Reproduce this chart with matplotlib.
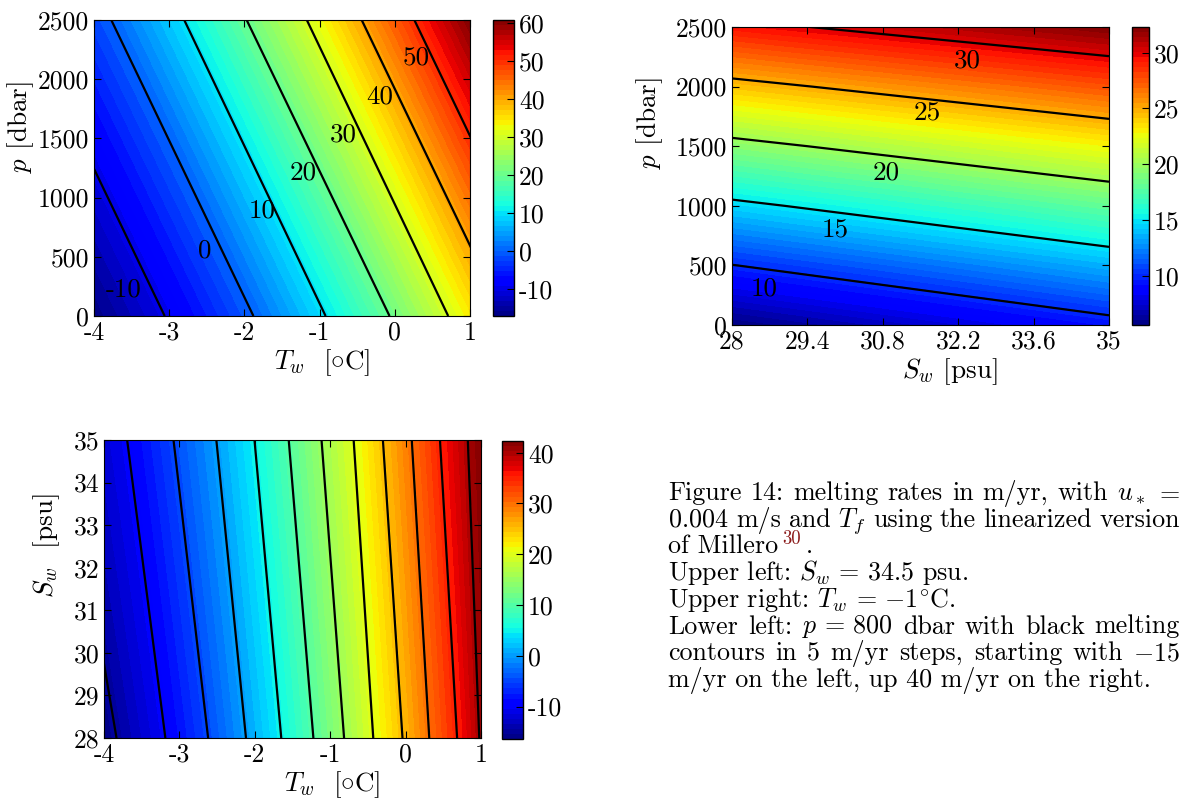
import numpy as np
import matplotlib
matplotlib.use("Agg")
import matplotlib.pyplot as plt

# ---- data (melting rate in m/yr) ----
# upper left (Sw = 34.5 psu): where each melt contour meets p = 0 and p = 2500
ul_line_levels = [-20, -10, 0, 10, 20, 30, 40, 50, 60, 70]
ul_t_p0 = [-4.45, -3.06, -1.88, -0.92, -0.07, 0.71, 1.45, 2.15, 2.85, 3.48]
ul_t_p2500 = [-6.34, -4.95, -3.77, -2.80, -1.97, -1.17, -0.44, 0.26, 0.96, 1.59]
ul_p = [0, 2500]
ul_range = (-17.1, 60.7)
ul_levels = [-10, 0, 10, 20, 30, 40, 50]
ul_cticks = [-10, 0, 10, 20, 30, 40, 50, 60]

# upper right (Tw = -1 C)
ur_sw = [28, 35]
ur_p = [0, 500, 1000, 1500, 2000, 2500]
ur_melt = [[5.6, 9.3], [9.95, 13.6], [14.5, 18.1],
           [19.3, 22.8], [24.3, 27.6], [29.4, 32.3]]
ur_range = (5.6, 32.3)
ur_levels = [10, 15, 20, 25, 30]
ur_xticks = [28, 29.4, 30.8, 32.2, 33.6, 35]
ur_xlabels = ["28", "29.4", "30.8", "32.2", "33.6", "35"]

# lower left (p = 800 dbar): where each contour meets Sw = 28 and Sw = 35
ll_line_levels = [-20, -15, -10, -5, 0, 5, 10, 15, 20, 25, 30, 35, 40, 45]
ll_t_s28 = [-4.55, -3.834, -3.186, -2.619, -2.117, -1.649, -1.223, -0.816,
            -0.429, -0.041, 0.314, 0.683, 0.977, 1.27]
ll_t_s35 = [-5.45, -4.50, -3.693, -3.078, -2.510, -2.004, -1.550, -1.115,
            -0.689, -0.301, 0.082, 0.456, 0.825, 1.21]
ll_sw = [28, 35]
ll_range = (-16.4, 42.3)
ll_levels = [-15, -10, -5, 0, 5, 10, 15, 20, 25, 30, 35, 40]
ll_cticks = [-10, 0, 10, 20, 30, 40]

# contour label spots
ul_lab_pos = [(-3.61, 225), (-2.53, 556), (-1.76, 888), (-1.22, 1208),
              (-0.68, 1531), (-0.20, 1854), (0.28, 2180)]
ur_lab_pos = [(28.59, 309), (29.92, 801), (30.86, 1278), (31.62, 1784), (32.37, 2219)]

plt.rcParams.update({
    "font.family": "serif",
    "font.serif": ["cmr10"],
    "mathtext.fontset": "cm",
    "axes.unicode_minus": False,
    "font.size": 18.5,
    "xtick.direction": "in",
    "ytick.direction": "in",
    "xtick.top": True,
    "ytick.right": True,
    "xtick.major.size": 5,
    "ytick.major.size": 5,
})

W, H = 1187, 799
fig = plt.figure(figsize=(W / 100, H / 100), dpi=100)
lab_fs = 19.5


def box(x0, y0, x1, y1):
    return [x0 / W, 1 - y1 / H, (x1 - x0) / W, (y1 - y0) / H]


def panel(ax_rect, cb_rect, x, y, z, levels, zrange, n=60):
    ax = fig.add_axes(box(*ax_rect))
    cax = fig.add_axes(box(*cb_rect))
    fill = np.linspace(zrange[0], zrange[1], n)
    cf = ax.contourf(x, y, z, levels=fill, cmap="jet")
    ax.contour(x, y, z, levels=levels, colors="k", linewidths=1.6,
               linestyles="solid")
    cb = fig.colorbar(cf, cax=cax)
    cb.outline.set_linewidth(1.0)
    cax.tick_params(direction="in", length=5, right=True, left=False)
    return ax, cb


# upper left: mesh built from the contour crossings
n1 = len(ul_line_levels)
X1 = np.array([ul_t_p0, ul_t_p2500])
Y1 = np.repeat(np.array(ul_p, float)[:, None], n1, axis=1)
Z1 = np.tile(np.array(ul_line_levels, float), (2, 1))
ax1, cb1 = panel((94, 20, 470, 316), (493, 20, 514, 316), X1, Y1, Z1, ul_levels, ul_range)
for (xx, yy), lv in zip(ul_lab_pos, ul_levels):
    ax1.text(xx, yy, str(lv), ha="center", va="center", fontsize=19.5)
ax1.set_xlim(-4, 1)
ax1.set_ylim(0, 2500)
ax1.set_xticks([-4, -3, -2, -1, 0, 1])
ax1.set_yticks([0, 500, 1000, 1500, 2000, 2500])
ax1.set_xlabel(r"$T_w$  [$\circ$C]", fontsize=lab_fs)
ax1.set_ylabel(r"$p$ [dbar]", fontsize=lab_fs)
ax1.xaxis.set_label_coords(0.606, -0.105)
ax1.yaxis.set_label_coords(-0.154, 0.637)
cb1.set_ticks(ul_cticks)

# upper right
ax2, cb2 = panel((732, 27, 1109, 325), (1132, 27, 1149, 325), ur_sw, ur_p, ur_melt,
                 ur_levels, ur_range)
for (xx, yy), lv in zip(ur_lab_pos, ur_levels):
    ax2.text(xx, yy, str(lv), ha="center", va="center", fontsize=19.5)
ax2.set_xticks(ur_xticks)
ax2.set_xticklabels(ur_xlabels)
ax2.set_yticks([0, 500, 1000, 1500, 2000, 2500])
ax2.set_xlabel(r"$S_w$ [psu]", fontsize=lab_fs)
ax2.set_ylabel(r"$p$ [dbar]", fontsize=lab_fs)
ax2.xaxis.set_label_coords(0.578, -0.105)
ax2.yaxis.set_label_coords(-0.178, 0.676)
cb2.set_ticks(ur_levels)

# lower left: mesh built from the contour crossings
n3 = len(ll_line_levels)
X3 = np.array([ll_t_s28, ll_t_s35])
Y3 = np.repeat(np.array(ll_sw, float)[:, None], n3, axis=1)
Z3 = np.tile(np.array(ll_line_levels, float), (2, 1))
ax3, cb3 = panel((104, 440, 481, 738), (502, 441, 523, 739), X3, Y3, Z3, ll_levels, ll_range)
ax3.set_xlim(-4, 1)
ax3.set_ylim(28, 35)
ax3.set_xticks([-4, -3, -2, -1, 0, 1])
ax3.set_yticks(range(28, 36))
ax3.set_xlabel(r"$T_w$  [$\circ$C]", fontsize=lab_fs)
ax3.set_ylabel(r"$S_w$  [psu]", fontsize=lab_fs)
ax3.xaxis.set_label_coords(0.605, -0.105)
ax3.yaxis.set_label_coords(-0.111, 0.646)
cb3.set_ticks(ll_cticks)

# caption (justified by hand)
fs = 18.75
rend = fig.canvas.get_renderer()
cap_x0, cap_x1 = 668, 1180


def cap_line(tokens, base, justify):
    y = 1 - base / H
    txts = [fig.text(0, y, t, fontsize=fs, va="baseline") for t in tokens]
    widths = [t.get_window_extent(rend).width for t in txts]
    if justify and len(txts) > 1:
        gap = (cap_x1 - cap_x0 - sum(widths)) / (len(txts) - 1)
    else:
        gap = fs * 100 / 72 * 0.333
    x = cap_x0
    for t, w in zip(txts, widths):
        t.set_x(x / W)
        x += w + gap


cap_lines = [
    (["Figure", "14:", "melting", "rates", "in", "m/yr,", "with", r"$u_*$", r"$=$"], True),
    ([r"$0.004$", "m/s", "and", r"$T_f$", "using", "the", "linearized", "version"], True),
    None,
    ([r"Upper left: $S_w\,=\,34.5$ psu."], False),
    ([r"Upper right: $T_w\,=\,{-1}^{\circ}$C."], False),
    (["Lower", "left:", r"$p\,=\,800$", "dbar", "with", "black", "melting"], True),
    (["contours", "in", "5", "m/yr", "steps,", "starting", "with", r"$-15$"], True),
    (["m/yr on the left, up 40 m/yr on the right."], False),
]
base0, step = 500, 26.7
for i, item in enumerate(cap_lines):
    b = base0 + i * step
    if item is None:
        t = fig.text(cap_x0 / W, 1 - b / H, "of Millero", fontsize=fs, va="baseline")
        w = t.get_window_extent(rend).width
        s = fig.text((cap_x0 + w + 4) / W, 1 - (b - 9) / H, "30", fontsize=fs * 0.72,
                     va="baseline", color="#8b1a1a")
        w2 = s.get_window_extent(rend).width
        fig.text((cap_x0 + w + w2 + 9) / W, 1 - b / H, ".", fontsize=fs, va="baseline")
    else:
        cap_line(item[0], b, item[1])

fig.savefig("out.png", dpi=100)
